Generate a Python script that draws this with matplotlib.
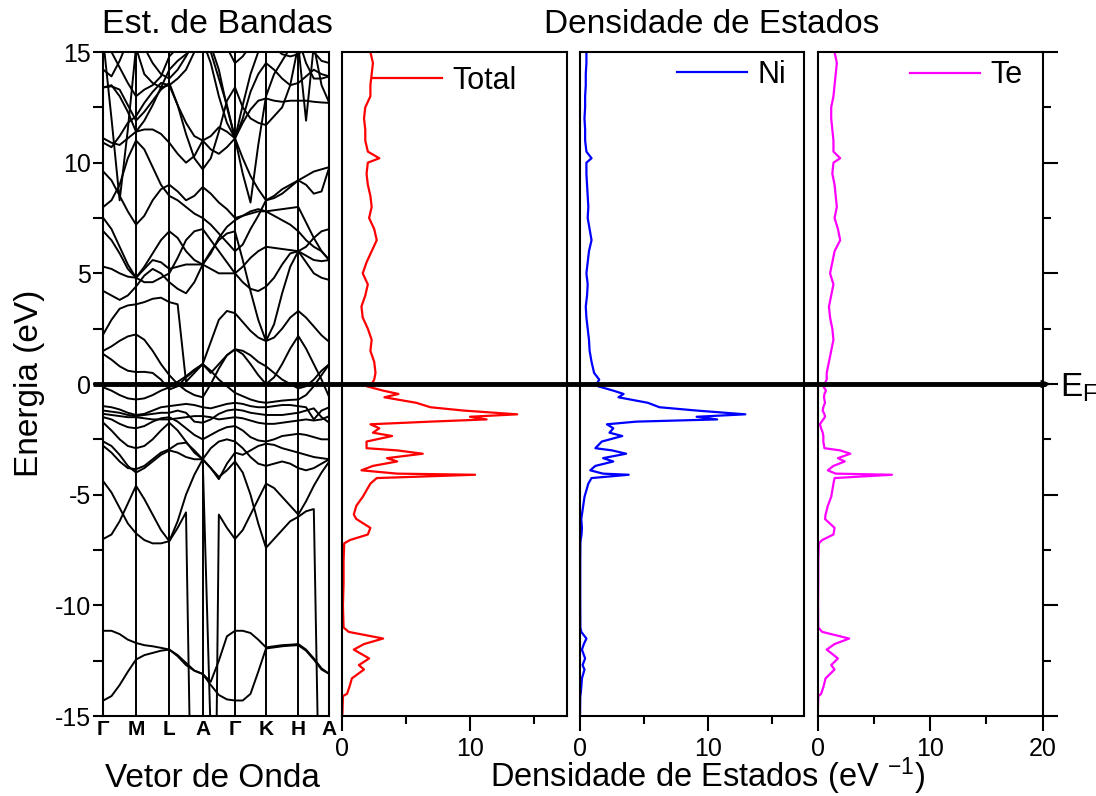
import numpy as np
import matplotlib.pyplot as plt
from matplotlib.patches import FancyArrowPatch
from matplotlib.lines import Line2D
from matplotlib import transforms
from matplotlib.ticker import MultipleLocator

plt.rcParams['font.family'] = ['Liberation Sans', 'DejaVu Sans']
plt.rcParams['mathtext.default'] = 'regular'
plt.rcParams['axes.unicode_minus'] = False

# k-path (high symmetry points)
kpath_labels = ['Γ', 'M', 'L', 'A', 'Γ', 'K', 'H', 'A']
kpath_nodes = [0, 32.7, 66.0, 99.4, 131.7, 162.7, 195.0, 226.0]

# band energies (eV), 4 steps per segment: G..M..L..A..G..K..H..A (29 values)
nan = np.nan
b_s1 = [-14.3, -14.1, -13.6, -13.0, -12.45, -12.25, -12.15, -12.05, -12.0, -12.3, -12.7, -12.95, -13.1, -13.6,
        -14.05, -14.25, -14.3, -14.3, -14.0, -13.0, -11.95, -11.9, -11.85, -11.82, -11.8, -12.05, -12.45, -12.9, -13.1]
b_s2 = [-11.15, -11.15, -11.3, -11.55, -11.7, -11.8, -11.85, -11.92, -12.0, -12.25, -12.6, -12.95, -13.1, -13.45,
        -12.5, -11.4, -11.15, -11.15, -11.25, -11.55, -11.9, -11.85, -11.8, -11.78, -11.75, -12.0, -12.4, -12.85, -13.1]
b_p1 = [-4.4, -4.9, -5.6, -6.3, -6.75, -7.05, -7.2, -7.2, -7.1, -6.5, -5.8, -28, -40, -40,
        -5.9, -6.5, -7.0, -6.6, -5.9, -5.2, -4.5, -4.7, -5.1, -5.5, -5.9, -5.3, -4.6, -4.0, -3.5]
b_p2 = [-7.0, -6.8, -6.2, -5.4, -4.6, -5.2, -5.9, -6.6, -7.1, -6.2, -5.0, -4.1, -3.4, -3.8,
        -4.2, -3.9, -3.5, -4.0, -5.0, -6.3, -7.4, -7.0, -6.6, -6.2, -6.0, -5.75, -5.65, -25, -40]
b_p3 = [-2.6, -2.8, -3.2, -3.7, -4.0, -3.8, -3.5, -3.2, -3.0, -3.1, -3.3, -3.4, -3.4, -16,
        nan, nan, nan, nan, nan, nan, nan, nan, nan, nan, nan, nan, nan, nan, nan]
b_v1 = [-2.8, -3.1, -3.5, -3.8, -3.85, -3.7, -3.4, -3.1, -2.95, -2.7, -2.65, -3.0, -3.4, -2.9,
        -2.6, -2.5, -2.6, -2.9, -3.3, -3.6, -3.7, -3.6, -3.5, -3.6, -3.8, -3.9, -3.8, -3.6, -3.4]
b_v2 = [-1.75, -2.1, -2.5, -2.8, -2.9, -2.8, -2.5, -2.1, -1.75, -2.1, -2.6, -3.1, -3.4, -3.8,
        -4.3, -3.6, -3.1, -3.2, -3.0, -2.8, -2.7, -2.75, -2.9, -3.0, -3.1, -3.2, -3.3, -3.35, -3.4]
b_v3 = [-1.5, -1.6, -1.8, -1.95, -2.0, -1.9, -1.7, -1.55, -1.5, -1.7, -2.0, -2.3, -2.5, -2.3,
        -2.1, -1.95, -1.9, -2.1, -2.4, -2.55, -2.6, -2.5, -2.35, -2.3, -2.25, -2.3, -2.4, -2.5, -2.5]
b_v4 = [-1.2, -1.25, -1.3, -1.4, -1.45, -1.4, -1.35, -1.3, -1.3, -1.2, -1.3, -1.7, -1.75, -1.6,
        -1.35, -1.2, -1.15, -1.2, -1.3, -1.35, -1.4, -1.4, -1.4, -1.35, -1.3, -1.2, -1.1, -1.5, -1.75]
b_v5 = [-1.35, -1.4, -1.45, -1.5, -1.5, -1.55, -1.6, -1.6, -1.6, -1.55, -1.5, -1.45, -1.45, -1.5,
        -1.6, -1.55, -1.5, -1.55, -1.65, -1.75, -1.8, -1.8, -1.75, -1.7, -1.65, -1.6, -1.65, -1.6, -1.45]
b_v6 = [-1.0, -1.05, -1.15, -1.3, -1.4, -1.35, -1.2, -1.05, -1.0, -0.95, -0.9, -0.95, -1.05, -1.1,
        -1.0, -0.9, -0.85, -0.9, -1.0, -1.05, -1.05, -1.0, -0.95, -0.95, -1.0, -1.05, -1.6, -1.2, -1.05]
b_v7 = [-0.15, -0.3, -0.5, -0.65, -0.7, -0.65, -0.5, -0.3, -0.15, 0.1, 0.35, 0.65, 0.9, 0.6,
        0.2, -0.1, -0.4, -0.55, -0.7, -0.8, -0.85, -0.8, -0.75, -0.72, -0.7, -0.5, -0.1, 0.4, 0.9]
b_f1 = [1.5, 1.7, 1.95, 2.15, 2.24, 2.0, 1.5, 0.9, 0.4, 0.0, -0.3, -0.5, -0.6, 0.0,
        0.7, 1.3, 1.57, 1.35, 0.9, 0.4, 0.0, 0.3, 0.9, 1.6, 2.17, 1.6, 0.9, 0.2, -0.6]
b_f2 = [1.35, 1.1, 0.8, 0.6, 0.54, 0.55, 0.5, 0.2, -0.25, -0.1, 0.3, 0.6, 0.9, 0.5,
        0.9, 1.3, 1.57, 1.5, 1.3, 1.0, 0.8, 0.5, 0.2, 0.0, -0.2, -0.1, 0.2, 0.6, 0.9]
b_c1 = [2.25, 2.9, 3.4, 3.55, 3.6, 3.7, 3.85, 3.9, 3.7, 3.6, 0.1, 0.5, 0.9, 1.9,
        2.9, 3.3, 3.2, 2.8, 2.4, 2.1, 1.94, 2.1, 2.5, 3.0, 3.3, 3.0, 2.6, 2.2, 1.9]
b_c2 = [4.2, 4.0, 3.8, 4.0, 4.4, 4.9, 5.2, 5.0, 4.6, 4.3, 4.1, 4.6, 5.4, 6.0,
        6.5, 6.8, 6.9, 5.6, 4.2, 2.9, 1.94, 2.7, 4.1, 5.3, 6.0, 5.5, 5.0, 4.8, 4.7]
b_c3 = [5.3, 5.2, 5.0, 4.85, 4.8, 5.2, 5.6, 5.5, 5.2, 5.3, 5.4, 5.4, 5.4, 5.2,
        5.0, 5.0, 5.0, 5.3, 5.7, 6.0, 6.2, 6.15, 6.1, 6.05, 6.0, 5.8, 5.6, 5.55, 5.6]
b_c4 = [7.5, 7.0, 6.2, 5.4, 4.8, 5.3, 5.9, 6.5, 6.9, 6.6, 6.0, 5.6, 5.4, 5.9,
        6.6, 7.1, 7.4, 7.6, 7.7, 7.8, 7.8, 7.85, 7.9, 7.95, 8.0, 7.3, 6.6, 6.0, 5.6]
b_c5 = [15.5, 12.0, 8.3, 11.5, 15.2, 14.0, 13.6, 13.4, 13.5, 13.8, 14.2, 15.0, 15.5, 14.5,
        13.0, 11.8, 11.1, 9.5, 8.2, 10.8, 13.0, 14.0, 14.6, 15.2, 15.6, 14.5, 13.8, 13.8, 13.9]
b_c6 = [13.4, 13.45, 13.3, 12.6, 11.9, 12.3, 12.8, 13.3, 13.6, 12.6, 11.3, 10.2, 9.7, 10.2,
        11.4, 12.8, 13.4, 12.5, 12.0, 11.8, 11.7, 12.1, 12.5, 13.5, 15.3, 11.9, 15.3, 13.5, 12.7]
b_c7 = [11.1, 10.9, 10.8, 11.1, 11.4, 11.5, 11.5, 11.3, 10.9, 10.4, 10.0, 10.3, 11.0, 10.6,
        10.4, 10.7, 11.1, 10.2, 9.4, 8.8, 8.3, 8.5, 8.8, 9.0, 9.2, 9.4, 9.6, 9.7, 9.8]
b_c8 = [10.9, 10.7, 11.2, 11.8, 12.1, 12.7, 13.2, 13.6, 13.5, 12.6, 11.8, 11.2, 11.0, 11.2,
        11.6, 11.4, 11.1, 11.8, 12.4, 12.8, 12.9, 12.8, 12.75, 12.8, 12.8, 12.8, 12.75, 12.72, 12.7]
b_c9 = [8.0, 8.3, 9.0, 10.2, 11.0, 10.6, 9.8, 9.0, 8.5, 8.3, 8.0, 7.7, 7.5, 7.2,
        6.8, 6.4, 6.0, 6.3, 7.0, 7.6, 8.3, 8.4, 8.6, 8.9, 9.2, 9.0, 8.6, 8.7, 9.8]
b_c10 = [6.9, 6.5, 5.9, 5.2, 4.8, 4.6, 4.6, 4.8, 5.0, 5.7, 6.5, 6.9, 7.0, 6.5,
         6.0, 5.5, 5.0, 4.6, 4.3, 4.2, 4.4, 4.8, 5.4, 5.9, 6.0, 6.2, 6.6, 6.9, 7.0]
b_c11 = [14.2, 13.9, 14.6, 15.5, 16.0, 15.2, 14.5, 14.0, 13.8, 14.2, 14.8, 15.5, 16.0, 15.0,
         13.8, 12.6, 11.1, 12.6, 14.0, 15.0, 15.6, 15.8, 16.0, 16.0, 16.0, 15.5, 15.0, 14.6, 14.5]
b_c12 = [9.6, 9.2, 8.5, 7.8, 7.2, 7.6, 8.3, 8.8, 9.0, 8.7, 8.3, 8.5, 8.9, 8.6,
         8.2, 7.9, 7.5, 7.6, 7.8, 7.9, 7.8, 7.6, 7.4, 7.2, 6.9, 6.5, 6.2, 6.0, 5.6]
b_c13 = [13.4, 13.5, 13.0, 12.3, 11.4, 11.9, 12.6, 13.4, 14.2, 14.6, 14.9, 15.2, 15.5, 15.3,
         14.2, 12.5, 11.1, 12.0, 13.2, 14.0, 14.5, 14.2, 13.8, 13.5, 13.6, 13.9, 14.2, 14.0, 13.9]
b_c14 = [15.5, 15.0, 14.3, 13.6, 13.0, 13.3, 13.5, 13.9, 14.8, 15.2, 15.6, 16.0, 16.0, 16.0,
         15.8, 15.2, 14.5, 14.8, 15.3, 15.6, 15.6, 15.2, 14.9, 14.8, 14.9, 15.2, 15.5, 15.6, 16.0]
bands = [b_s1, b_s2, b_p1, b_p2, b_p3, b_v1, b_v2, b_v3, b_v4, b_v5, b_v6, b_v7, b_f1, b_f2,
         b_c1, b_c2, b_c3, b_c4, b_c5, b_c6, b_c7, b_c8, b_c9, b_c10, b_c11, b_c12, b_c13, b_c14]

# density of states (states/eV)
energy = [15.0, 14.5, 14.0, 13.5, 13.0, 12.5, 12.0, 11.5, 11.0, 10.5, 10.2, 10.0, 9.5, 9.0, 8.5,
          8.0, 7.5, 7.0, 6.5, 6.0, 5.5, 5.0, 4.5, 4.0, 3.5, 3.0, 2.5, 2.0, 1.5, 1.0,
          0.5, 0.2, 0.0, -0.1, -0.3, -0.45, -0.6, -0.85, -1.05, -1.2, -1.37, -1.48, -1.6, -1.7, -1.82,
          -2.0, -2.2, -2.35, -2.6, -2.9, -3.0, -3.15, -3.35, -3.5, -3.7, -3.9, -4.05, -4.1, -4.25, -4.5,
          -5.1, -5.5, -5.9, -6.1, -6.5, -6.8, -7.05, -7.2, -8.0, -9.0, -10.0, -11.0, -11.2, -11.5, -11.75,
          -12.0, -12.4, -12.7, -12.9, -13.3, -13.7, -14.0, -14.1, -15.0]
dos_total = [2.2, 2.4, 2.3, 2.2, 2.2, 1.8, 1.7, 1.8, 1.8, 2.0, 2.9, 2.0, 1.9, 2.0, 2.2,
             2.3, 2.1, 2.5, 2.7, 2.3, 1.9, 1.6, 2.0, 1.8, 1.5, 1.6, 2.0, 2.3, 2.2, 2.5,
             2.6, 2.5, 2.3, 1.9, 3.2, 4.4, 3.3, 5.8, 6.9, 9.5, 13.7, 10.0, 11.3, 6.9, 2.2,
             2.9, 2.4, 3.9, 1.9, 1.9, 4.3, 6.3, 3.5, 4.3, 2.4, 1.5, 4.3, 10.4, 2.7, 2.2,
             1.6, 1.1, 0.9, 1.1, 2.2, 2.0, 0.6, 0.15, 0.1, 0.1, 0.05, 0.1, 0.5, 3.2, 1.7,
             0.9, 2.1, 1.3, 1.7, 0.75, 0.55, 0.37, 0.05, 0.0]
dos_ni = [0.5, 0.5, 0.45, 0.45, 0.4, 0.4, 0.35, 0.4, 0.4, 0.5, 0.9, 0.5, 0.5, 0.55, 0.6,
          0.65, 0.6, 0.75, 0.9, 0.7, 0.6, 0.5, 0.6, 0.55, 0.45, 0.5, 0.6, 0.7, 0.75, 0.9,
          1.1, 1.5, 1.3, 1.4, 2.6, 3.4, 3.0, 5.3, 6.2, 9.1, 12.9, 9.1, 10.7, 4.4, 2.1,
          2.6, 2.3, 3.3, 1.7, 1.2, 2.5, 3.6, 1.8, 2.6, 1.2, 0.8, 1.8, 3.8, 0.9, 0.65,
          0.35, 0.25, 0.15, 0.1, 0.15, 0.12, 0.05, 0.03, 0.02, 0.02, 0.02, 0.03, 0.1, 0.5, 0.3,
          0.15, 0.4, 0.2, 0.35, 0.15, 0.1, 0.05, 0.02, 0.0]
dos_te = [1.5, 1.7, 1.6, 1.5, 1.4, 1.2, 1.2, 1.3, 1.4, 1.4, 2.0, 1.4, 1.3, 1.5, 1.6,
          1.7, 1.5, 1.8, 2.0, 1.5, 1.3, 1.1, 1.4, 1.2, 1.0, 1.1, 1.3, 1.4, 1.2, 1.0,
          0.8, 0.8, 0.6, 0.5, 0.73, 0.6, 0.56, 0.65, 0.5, 0.44, 0.6, 0.65, 0.5, 0.35, 0.2,
          0.3, 0.45, 0.5, 0.5, 0.6, 2.0, 2.9, 1.8, 2.4, 1.4, 0.9, 1.6, 6.6, 1.5, 1.4,
          1.2, 0.9, 0.7, 0.65, 1.5, 1.4, 0.4, 0.1, 0.05, 0.05, 0.03, 0.05, 0.4, 2.8, 1.5,
          0.8, 1.8, 1.2, 1.5, 0.7, 0.5, 0.3, 0.05, 0.0]

# sample positions along the path: 4 steps per segment
k_samples = []
for a, b in zip(kpath_nodes[:-1], kpath_nodes[1:]):
    k_samples += [a + (b - a) * j / 4 for j in range(4)]
k_samples.append(kpath_nodes[-1])

fig = plt.figure(figsize=(10.96, 7.96), dpi=100)
W, H = 1096, 796
bot, hgt = 1 - 716 / H, 664 / H
ax_b = fig.add_axes([103.3 / W, bot, 226 / W, hgt])
ax_t = fig.add_axes([342.3 / W, bot, 224.7 / W, hgt])
ax_n = fig.add_axes([580 / W, bot, 224.3 / W, hgt])
ax_e = fig.add_axes([817.7 / W, bot, 225 / W, hgt])

# band structure
for band in bands:
    ax_b.plot(k_samples, band, color='k', lw=1.4)
for k in kpath_nodes[1:-1]:
    ax_b.axvline(k, color='k', lw=1.4)
ax_b.set_xlim(kpath_nodes[0], kpath_nodes[-1])
ax_b.set_ylim(-15, 15)
ax_b.set_xticks(kpath_nodes)
ax_b.set_xticklabels(kpath_labels, fontweight='bold', fontsize=15)
ax_b.tick_params(axis='x', length=0, pad=3)
ax_b.yaxis.set_major_locator(MultipleLocator(5))
ax_b.yaxis.set_minor_locator(MultipleLocator(2.5))
ax_b.tick_params(axis='y', which='both', direction='out', length=7, width=1.5,
                 labelsize=18, pad=2)

# DOS panels
panels = [(ax_t, dos_total, '#ff0000', 'Total', 17.6, (0.132, 0.957)),
          (ax_n, dos_ni, '#0000ff', 'Ni', 17.5, (0.432, 0.966)),
          (ax_e, dos_te, '#ff00ff', 'Te', 20, (0.41, 0.965))]
for ax, vals, col, name, xmax, anchor in panels:
    ax.plot(vals, energy, color=col, lw=1.6, label=name)
    ax.set_xlim(0, xmax)
    ax.set_ylim(-15, 15)
    ax.xaxis.set_major_locator(MultipleLocator(10))
    ax.xaxis.set_minor_locator(MultipleLocator(5))
    ax.tick_params(axis='x', which='major', direction='out', length=11, width=1.5,
                   labelsize=18, pad=4)
    ax.tick_params(axis='x', which='minor', direction='out', length=6, width=1.5)
    ax.set_yticks([])
    ax.legend(loc='center left', bbox_to_anchor=anchor, frameon=False, fontsize=22,
              handlelength=2.3, handletextpad=0.33, borderpad=0, borderaxespad=0)

ax_e.yaxis.tick_right()
ax_e.yaxis.set_major_locator(MultipleLocator(5))
ax_e.yaxis.set_minor_locator(MultipleLocator(2.5))
ax_e.tick_params(axis='y', which='major', direction='out', length=11, width=1.5, labelright=False)
ax_e.tick_params(axis='y', which='minor', direction='out', length=6, width=1.5)

for ax in [ax_b, ax_t, ax_n, ax_e]:
    for sp in ax.spines.values():
        sp.set_linewidth(1.5)

# Fermi level line across all panels, with a small pointed tip
trans = transforms.blended_transform_factory(fig.transFigure, ax_b.transData)
x0 = ax_b.get_position().x0 - 10 / W
x1 = ax_e.get_position().x1 + 9 / W
fig.add_artist(Line2D([x0, x1 - 6 / W], [0, 0], transform=trans, color='k', lw=3.5,
                      solid_capstyle='butt'))
fig.add_artist(FancyArrowPatch((x1 - 14 / W, 0), (x1, 0), transform=trans, color='k', lw=0,
                               arrowstyle='-|>,head_length=0.8,head_width=0.3',
                               mutation_scale=10, shrinkA=0, shrinkB=0))
fig.text(x1 + 8 / W, 1 - 396.7 / H, 'E$_F$', fontsize=24, va='baseline', ha='left')

# titles and axis labels
fig.text(217 / W, 1 - 33 / H, 'Est. de Bandas', fontsize=24.5, ha='center', va='baseline')
fig.text(712 / W, 1 - 33 / H, 'Densidade de Estados', fontsize=24, ha='center', va='baseline')
fig.text(212 / W, 1 - 787 / H, 'Vetor de Onda', fontsize=24, ha='center', va='baseline')
fig.text(708 / W, 1 - 787 / H, 'Densidade de Estados (eV $^{-1}$)', fontsize=23.5,
         ha='center', va='baseline')
fig.text(30 / W, 1 - 383 / H, 'Energia (eV)', fontsize=24, rotation=90,
         ha='center', va='center')

fig.savefig('out.png', dpi=100)
